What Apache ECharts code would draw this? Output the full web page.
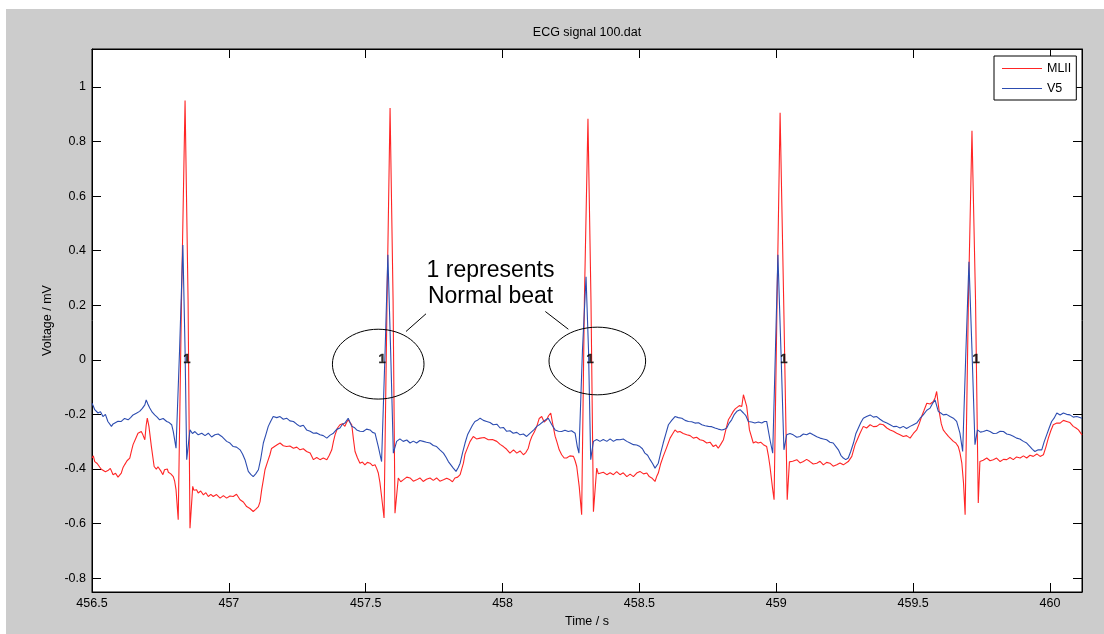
<!DOCTYPE html>
<html><head><meta charset="utf-8">
<script src="https://cdn.jsdelivr.net/npm/echarts@6/dist/echarts.min.js"></script>
<style>
html,body{margin:0;padding:0;background:#fff;}
#bg{position:absolute;left:6px;top:9px;width:1098px;height:625px;background:#cccccc;}
#chart{position:absolute;left:0;top:0;width:1104px;height:634px;}
</style></head><body>
<div id="bg"></div><div id="chart"></div>
<script>
const chartTitle = 'ECG signal 100.dat';
const seriesNames = ['MLII', 'V5'];
const xTicks = [456.5, 457, 457.5, 458, 458.5, 459, 459.5, 460];
const yTicks = [-0.8, -0.6, -0.4, -0.2, 0, 0.2, 0.4, 0.6, 0.8, 1];

// MLII lead: [time s, voltage mV]
const mlii = [
[456.500,-0.360],[456.505,-0.352],[456.510,-0.373],[456.519,-0.380],[456.528,-0.393],[456.534,-0.401],[456.540,-0.397],[456.549,-0.410],[456.558,-0.406],[456.567,-0.398],[456.577,-0.421],[456.586,-0.416],[456.595,-0.430],[456.601,-0.424],[456.607,-0.415],[456.613,-0.396],[456.619,-0.385],[456.628,-0.370],[456.638,-0.360],[456.644,-0.335],[456.650,-0.311],[456.659,-0.290],[456.668,-0.269],[456.674,-0.272],[456.680,-0.263],[456.686,-0.275],[456.693,-0.293],[456.698,-0.240],[456.702,-0.214],[456.708,-0.244],[456.717,-0.318],[456.727,-0.391],[456.735,-0.401],[456.741,-0.392],[456.747,-0.397],[456.753,-0.410],[456.759,-0.421],[456.765,-0.403],[456.771,-0.409],[456.775,-0.400],[456.779,-0.412],[456.788,-0.418],[456.797,-0.428],[456.802,-0.445],[456.807,-0.476],[456.815,-0.586],[456.827,0.220],[456.840,0.950],[456.851,0.220],[456.858,-0.617],[456.868,-0.464],[456.872,-0.478],[456.876,-0.483],[456.882,-0.476],[456.888,-0.488],[456.897,-0.481],[456.907,-0.495],[456.916,-0.487],[456.925,-0.501],[456.934,-0.493],[456.943,-0.501],[456.955,-0.494],[456.968,-0.507],[456.980,-0.498],[456.992,-0.507],[457.004,-0.499],[457.016,-0.501],[457.028,-0.493],[457.041,-0.513],[457.053,-0.521],[457.065,-0.538],[457.077,-0.545],[457.089,-0.556],[457.098,-0.548],[457.108,-0.538],[457.114,-0.520],[457.120,-0.476],[457.126,-0.440],[457.132,-0.403],[457.141,-0.375],[457.150,-0.348],[457.156,-0.325],[457.162,-0.318],[457.175,-0.312],[457.187,-0.305],[457.199,-0.315],[457.211,-0.318],[457.223,-0.316],[457.236,-0.324],[457.248,-0.320],[457.260,-0.330],[457.272,-0.326],[457.284,-0.336],[457.297,-0.342],[457.309,-0.366],[457.321,-0.358],[457.333,-0.366],[457.345,-0.360],[457.358,-0.366],[457.367,-0.350],[457.376,-0.330],[457.382,-0.300],[457.388,-0.275],[457.397,-0.250],[457.406,-0.238],[457.415,-0.234],[457.424,-0.244],[457.430,-0.230],[457.436,-0.220],[457.443,-0.230],[457.449,-0.238],[457.455,-0.290],[457.461,-0.336],[457.470,-0.360],[457.479,-0.379],[457.488,-0.375],[457.497,-0.385],[457.506,-0.376],[457.516,-0.379],[457.525,-0.388],[457.534,-0.385],[457.540,-0.398],[457.546,-0.415],[457.552,-0.450],[457.558,-0.501],[457.567,-0.580],[457.578,0.220],[457.589,0.923],[457.600,0.220],[457.607,-0.562],[457.619,-0.433],[457.628,-0.447],[457.637,-0.440],[457.650,-0.430],[457.662,-0.433],[457.674,-0.445],[457.686,-0.440],[457.698,-0.433],[457.710,-0.446],[457.722,-0.438],[457.735,-0.433],[457.747,-0.442],[457.759,-0.433],[457.771,-0.445],[457.784,-0.440],[457.796,-0.434],[457.808,-0.440],[457.817,-0.447],[457.826,-0.433],[457.836,-0.430],[457.845,-0.421],[457.851,-0.400],[457.857,-0.379],[457.863,-0.345],[457.869,-0.330],[457.881,-0.300],[457.893,-0.281],[457.905,-0.290],[457.918,-0.287],[457.933,-0.285],[457.948,-0.293],[457.963,-0.292],[457.979,-0.299],[457.991,-0.310],[458.003,-0.318],[458.015,-0.328],[458.027,-0.342],[458.040,-0.330],[458.052,-0.342],[458.064,-0.334],[458.076,-0.348],[458.085,-0.340],[458.094,-0.324],[458.100,-0.300],[458.107,-0.281],[458.116,-0.265],[458.125,-0.244],[458.134,-0.215],[458.143,-0.208],[458.152,-0.228],[458.161,-0.220],[458.168,-0.205],[458.176,-0.195],[458.185,-0.244],[458.192,-0.280],[458.198,-0.299],[458.207,-0.330],[458.216,-0.348],[458.225,-0.360],[458.234,-0.360],[458.246,-0.352],[458.259,-0.354],[458.265,-0.370],[458.271,-0.391],[458.280,-0.464],[458.289,-0.568],[458.299,0.220],[458.312,0.883],[458.323,0.220],[458.332,-0.557],[458.344,-0.397],[458.350,-0.418],[458.356,-0.421],[458.368,-0.412],[458.381,-0.421],[458.393,-0.414],[458.405,-0.421],[458.417,-0.410],[458.429,-0.421],[458.441,-0.414],[458.454,-0.428],[458.466,-0.419],[458.478,-0.428],[458.490,-0.415],[458.502,-0.409],[458.515,-0.418],[458.527,-0.415],[458.536,-0.428],[458.545,-0.433],[458.557,-0.446],[458.563,-0.428],[458.569,-0.415],[458.578,-0.380],[458.587,-0.354],[458.600,-0.320],[458.612,-0.287],[458.621,-0.272],[458.630,-0.257],[458.639,-0.265],[458.648,-0.263],[458.660,-0.270],[458.673,-0.275],[458.685,-0.278],[458.697,-0.287],[458.709,-0.284],[458.721,-0.293],[458.733,-0.296],[458.746,-0.305],[458.758,-0.302],[458.770,-0.318],[458.779,-0.312],[458.788,-0.324],[458.797,-0.310],[458.807,-0.293],[458.816,-0.255],[458.825,-0.220],[458.834,-0.205],[458.843,-0.189],[458.850,-0.180],[458.856,-0.177],[458.865,-0.168],[458.874,-0.171],[458.880,-0.128],[458.886,-0.150],[458.892,-0.171],[458.902,-0.257],[458.916,-0.305],[458.925,-0.300],[458.934,-0.305],[458.943,-0.302],[458.953,-0.311],[458.960,-0.305],[458.965,-0.318],[458.971,-0.350],[458.977,-0.391],[458.987,-0.476],[458.992,-0.513],[459.003,0.220],[459.014,0.905],[459.027,0.220],[459.040,-0.513],[459.048,-0.374],[459.060,-0.372],[459.075,-0.366],[459.087,-0.378],[459.099,-0.373],[459.111,-0.365],[459.123,-0.373],[459.135,-0.382],[459.148,-0.379],[459.160,-0.372],[459.172,-0.385],[459.184,-0.376],[459.196,-0.379],[459.208,-0.390],[459.221,-0.385],[459.233,-0.378],[459.245,-0.385],[459.263,-0.373],[459.276,-0.354],[459.288,-0.311],[459.297,-0.290],[459.306,-0.269],[459.318,-0.244],[459.330,-0.250],[459.343,-0.238],[459.355,-0.245],[459.367,-0.244],[459.379,-0.235],[459.391,-0.238],[459.404,-0.250],[459.416,-0.257],[459.428,-0.262],[459.440,-0.269],[459.452,-0.275],[459.464,-0.281],[459.476,-0.278],[459.489,-0.287],[459.501,-0.270],[459.513,-0.257],[459.522,-0.235],[459.531,-0.208],[459.540,-0.185],[459.550,-0.159],[459.562,-0.162],[459.574,-0.153],[459.580,-0.140],[459.586,-0.116],[459.596,-0.195],[459.603,-0.235],[459.610,-0.257],[459.620,-0.270],[459.629,-0.281],[459.638,-0.290],[459.647,-0.299],[459.656,-0.305],[459.665,-0.318],[459.671,-0.340],[459.678,-0.379],[459.684,-0.450],[459.690,-0.568],[459.702,0.220],[459.715,0.839],[459.728,0.220],[459.738,-0.525],[459.744,-0.373],[459.756,-0.368],[459.769,-0.360],[459.781,-0.370],[459.793,-0.366],[459.805,-0.360],[459.818,-0.373],[459.830,-0.365],[459.842,-0.366],[459.854,-0.358],[459.866,-0.366],[459.878,-0.356],[459.891,-0.360],[459.903,-0.352],[459.915,-0.360],[459.927,-0.350],[459.939,-0.354],[459.952,-0.345],[459.964,-0.354],[459.976,-0.348],[459.985,-0.320],[459.994,-0.287],[460.003,-0.260],[460.012,-0.238],[460.025,-0.232],[460.037,-0.232],[460.049,-0.222],[460.061,-0.226],[460.073,-0.230],[460.085,-0.244],[460.095,-0.250],[460.104,-0.257],[460.117,-0.275]
];

// V5 lead: [time s, voltage mV]
const v5 = [
[456.500,-0.159],[456.505,-0.170],[456.510,-0.183],[456.516,-0.178],[456.522,-0.195],[456.531,-0.190],[456.540,-0.208],[456.549,-0.200],[456.558,-0.226],[456.565,-0.220],[456.571,-0.244],[456.577,-0.235],[456.583,-0.232],[456.595,-0.225],[456.607,-0.226],[456.619,-0.215],[456.632,-0.220],[456.641,-0.212],[456.650,-0.202],[456.662,-0.196],[456.674,-0.189],[456.684,-0.178],[456.693,-0.165],[456.698,-0.147],[456.704,-0.162],[456.711,-0.177],[456.720,-0.192],[456.729,-0.202],[456.738,-0.210],[456.747,-0.220],[456.760,-0.215],[456.773,-0.226],[456.782,-0.230],[456.791,-0.238],[456.797,-0.263],[456.807,-0.324],[456.820,0.037],[456.832,0.421],[456.840,0.037],[456.846,-0.366],[456.858,-0.257],[456.867,-0.270],[456.876,-0.263],[456.888,-0.275],[456.901,-0.269],[456.913,-0.278],[456.925,-0.269],[456.937,-0.283],[456.949,-0.275],[456.961,-0.272],[456.974,-0.281],[456.983,-0.290],[456.992,-0.299],[457.004,-0.305],[457.016,-0.318],[457.028,-0.320],[457.041,-0.330],[457.050,-0.345],[457.059,-0.366],[457.071,-0.409],[457.080,-0.420],[457.089,-0.428],[457.098,-0.418],[457.108,-0.403],[457.117,-0.360],[457.126,-0.305],[457.135,-0.275],[457.144,-0.244],[457.153,-0.225],[457.162,-0.208],[457.175,-0.212],[457.187,-0.208],[457.199,-0.218],[457.211,-0.214],[457.223,-0.224],[457.236,-0.226],[457.248,-0.236],[457.260,-0.244],[457.272,-0.240],[457.284,-0.257],[457.297,-0.262],[457.309,-0.269],[457.321,-0.268],[457.333,-0.275],[457.345,-0.278],[457.358,-0.287],[457.370,-0.276],[457.382,-0.269],[457.394,-0.255],[457.406,-0.250],[457.415,-0.236],[457.424,-0.232],[457.436,-0.214],[457.449,-0.244],[457.458,-0.248],[457.467,-0.257],[457.479,-0.262],[457.491,-0.263],[457.503,-0.254],[457.516,-0.257],[457.525,-0.266],[457.534,-0.269],[457.546,-0.318],[457.558,-0.373],[457.571,0.037],[457.581,0.385],[457.591,0.037],[457.601,-0.342],[457.613,-0.299],[457.625,-0.290],[457.637,-0.299],[457.650,-0.294],[457.662,-0.305],[457.674,-0.298],[457.686,-0.305],[457.698,-0.296],[457.710,-0.299],[457.722,-0.302],[457.735,-0.305],[457.747,-0.314],[457.759,-0.318],[457.771,-0.330],[457.784,-0.342],[457.793,-0.356],[457.802,-0.373],[457.811,-0.385],[457.820,-0.397],[457.830,-0.409],[457.838,-0.395],[457.845,-0.379],[457.854,-0.340],[457.863,-0.305],[457.872,-0.275],[457.881,-0.257],[457.890,-0.240],[457.899,-0.226],[457.908,-0.222],[457.918,-0.214],[457.930,-0.222],[457.942,-0.226],[457.954,-0.230],[457.966,-0.238],[457.979,-0.236],[457.991,-0.250],[458.003,-0.248],[458.015,-0.262],[458.027,-0.260],[458.039,-0.269],[458.052,-0.266],[458.064,-0.275],[458.076,-0.272],[458.088,-0.281],[458.094,-0.275],[458.107,-0.263],[458.116,-0.255],[458.125,-0.244],[458.137,-0.236],[458.149,-0.226],[458.158,-0.220],[458.167,-0.214],[458.180,-0.238],[458.192,-0.257],[458.204,-0.262],[458.216,-0.263],[458.228,-0.258],[458.240,-0.263],[458.252,-0.260],[458.265,-0.269],[458.273,-0.318],[458.279,-0.342],[458.292,0.037],[458.305,0.304],[458.314,0.037],[458.322,-0.366],[458.332,-0.299],[458.344,-0.292],[458.356,-0.299],[458.368,-0.292],[458.381,-0.299],[458.393,-0.290],[458.405,-0.299],[458.417,-0.292],[458.429,-0.293],[458.441,-0.290],[458.454,-0.299],[458.466,-0.305],[458.478,-0.311],[458.490,-0.312],[458.502,-0.318],[458.511,-0.326],[458.520,-0.342],[458.530,-0.350],[458.539,-0.366],[458.548,-0.380],[458.557,-0.397],[458.569,-0.379],[458.578,-0.340],[458.587,-0.305],[458.597,-0.270],[458.606,-0.238],[458.618,-0.222],[458.630,-0.208],[458.642,-0.212],[458.655,-0.214],[458.667,-0.222],[458.679,-0.226],[458.691,-0.227],[458.703,-0.232],[458.716,-0.231],[458.728,-0.238],[458.740,-0.242],[458.752,-0.244],[458.764,-0.245],[458.776,-0.250],[458.788,-0.254],[458.801,-0.257],[458.810,-0.255],[458.819,-0.250],[458.828,-0.232],[458.837,-0.220],[458.847,-0.200],[458.856,-0.189],[458.868,-0.183],[458.880,-0.195],[458.889,-0.205],[458.898,-0.226],[458.910,-0.228],[458.922,-0.232],[458.935,-0.228],[458.947,-0.232],[458.957,-0.226],[458.965,-0.226],[458.977,-0.293],[458.987,-0.342],[458.997,0.037],[459.006,0.385],[459.017,0.037],[459.028,-0.330],[459.038,-0.275],[459.050,-0.270],[459.062,-0.275],[459.075,-0.284],[459.087,-0.281],[459.099,-0.272],[459.111,-0.275],[459.123,-0.268],[459.135,-0.275],[459.148,-0.282],[459.160,-0.287],[459.172,-0.290],[459.184,-0.293],[459.196,-0.302],[459.208,-0.305],[459.218,-0.318],[459.227,-0.330],[459.236,-0.350],[459.245,-0.360],[459.254,-0.366],[459.263,-0.360],[459.272,-0.336],[459.282,-0.305],[459.291,-0.270],[459.300,-0.250],[459.309,-0.230],[459.318,-0.214],[459.330,-0.208],[459.343,-0.202],[459.355,-0.210],[459.367,-0.208],[459.379,-0.218],[459.391,-0.226],[459.404,-0.232],[459.416,-0.238],[459.428,-0.245],[459.440,-0.244],[459.452,-0.250],[459.464,-0.244],[459.476,-0.252],[459.489,-0.244],[459.501,-0.238],[459.513,-0.232],[459.525,-0.215],[459.537,-0.202],[459.550,-0.185],[459.562,-0.177],[459.571,-0.160],[459.580,-0.147],[459.592,-0.189],[459.601,-0.195],[459.610,-0.202],[459.622,-0.200],[459.635,-0.208],[459.647,-0.214],[459.659,-0.226],[459.671,-0.269],[459.681,-0.336],[459.693,0.037],[459.704,0.359],[459.715,0.037],[459.726,-0.311],[459.735,-0.257],[459.746,-0.265],[459.757,-0.263],[459.769,-0.258],[459.781,-0.263],[459.793,-0.270],[459.805,-0.269],[459.818,-0.262],[459.830,-0.263],[459.842,-0.272],[459.854,-0.275],[459.866,-0.280],[459.878,-0.287],[459.890,-0.290],[459.903,-0.299],[459.915,-0.305],[459.927,-0.318],[459.936,-0.328],[459.945,-0.336],[459.957,-0.330],[459.970,-0.330],[459.979,-0.300],[459.988,-0.275],[459.997,-0.250],[460.006,-0.226],[460.015,-0.214],[460.025,-0.195],[460.037,-0.202],[460.049,-0.195],[460.061,-0.200],[460.073,-0.202],[460.085,-0.210],[460.098,-0.208],[460.117,-0.214]
];

// beat annotations (time of annotation, code)
const beatTimes = [456.847, 457.560, 458.320, 459.028, 459.730];
const beatCodes = ['1', '1', '1', '1', '1'];

// callout drawn in data units: ellipse [t, v, half-width s, half-height mV]
const noteEllipses = [[457.5457, -0.016, 0.1673, 0.128], [458.3462, -0.0044, 0.1765, 0.124]];
const noteLines = [[457.7203, 0.1686, 457.6472, 0.1037], [458.1562, 0.177, 458.2403, 0.112]];
const noteText = { t: 457.956, v: 0.2785, text: '1 represents\nNormal beat' };

const FONT = '"Liberation Sans", Arial, Helvetica, sans-serif';
const RED = '#ff2525';
const BLUE = '#2c4cb0';
const X_MIN = 456.5, X_MAX = 460.117, Y_MIN = -0.851, Y_MAX = 1.139;

const chart = echarts.init(document.getElementById('chart'), null, { renderer: 'canvas' });

function axisBase(extra) {
  return Object.assign({
    type: 'value',
    axisLine: { show: true, onZero: false, lineStyle: { color: '#000', width: 1 } },
    splitLine: { show: false },
  }, extra);
}

const option = {
  animation: false,
  backgroundColor: 'transparent',
  grid: { left: 92, right: 22, top: 49, bottom: 42, show: true, backgroundColor: '#fff', borderColor: '#000', borderWidth: 1 },
  legend: {
    show: true, data: seriesNames, orient: 'vertical', left: 994, top: 56,
    backgroundColor: '#fff', borderColor: '#000', borderWidth: 1, borderRadius: 0,
    padding: [6, 5, 5, 8], itemGap: 7, itemWidth: 40, itemHeight: 1, icon: 'rect',
    selectedMode: false, z: 20,
    textStyle: { color: '#000', fontSize: 12.5, fontFamily: FONT }
  },
  xAxis: [
    axisBase({
      min: X_MIN, max: X_MAX, position: 'bottom',
      axisTick: { show: true, inside: true, length: 9, customValues: xTicks, lineStyle: { color: '#000' } },
      axisLabel: { show: true, customValues: xTicks, margin: 5, color: '#000', fontSize: 12.5, fontFamily: FONT },
      name: 'Time / s', nameLocation: 'middle', nameGap: 17,
      nameTextStyle: { color: '#000', fontSize: 12.5, fontFamily: FONT }
    }),
    axisBase({
      min: X_MIN, max: X_MAX, position: 'top',
      axisTick: { show: true, inside: true, length: 9, customValues: xTicks, lineStyle: { color: '#000' } },
      axisLabel: { show: false }
    })
  ],
  yAxis: [
    axisBase({
      min: Y_MIN, max: Y_MAX, position: 'left',
      axisTick: { show: true, inside: true, length: 9, customValues: yTicks, lineStyle: { color: '#000' } },
      axisLabel: { show: true, customValues: yTicks, margin: 6, color: '#000', fontSize: 12.5, fontFamily: FONT },
      name: 'Voltage / mV', nameLocation: 'middle', nameGap: 37, nameRotate: 90,
      nameTextStyle: { color: '#000', fontSize: 12.5, fontFamily: FONT }
    }),
    axisBase({
      min: Y_MIN, max: Y_MAX, position: 'right',
      axisTick: { show: true, inside: true, length: 9, customValues: yTicks, lineStyle: { color: '#000' } },
      axisLabel: { show: false }
    })
  ],
  series: [
    { name: seriesNames[0], type: 'line', data: mlii, xAxisIndex: 0, yAxisIndex: 0,
      symbol: 'none', showSymbol: false, sampling: 'none', z: 2, color: RED,
      lineStyle: { color: RED, width: 1.1 }, itemStyle: { color: RED } },
    { name: seriesNames[1], type: 'line', data: v5, xAxisIndex: 0, yAxisIndex: 0,
      symbol: 'none', showSymbol: false, sampling: 'none', z: 3, color: BLUE,
      lineStyle: { color: BLUE, width: 1.1 }, itemStyle: { color: BLUE } },
    { name: 'beats', type: 'scatter', xAxisIndex: 0, yAxisIndex: 0, z: 5, silent: true,
      data: beatTimes.map((t, i) => [t, 0, beatCodes[i]]),
      symbolSize: 0.1, itemStyle: { color: 'transparent' },
      label: { show: true, position: 'inside', formatter: p => p.data[2],
        color: '#000', fontWeight: 'bold', fontSize: 13, fontFamily: '"Liberation Sans", Arial, sans-serif',
        textBorderColor: '#000', textBorderWidth: 0.4 } }
  ]
};
chart.setOption(option);

function px(t, v) { return chart.convertToPixel({ xAxisIndex: 0, yAxisIndex: 0 }, [t, v]); }
const gridLeft = px(X_MIN, 0)[0], gridRight = px(X_MAX, 0)[0];
const g = [];
g.push({ id: 'title', type: 'text', z: 100, x: (gridLeft + gridRight) / 2, y: 33,
  style: { text: chartTitle, textAlign: 'center', textVerticalAlign: 'middle', fill: '#000', font: '12.5px ' + FONT } });
noteEllipses.forEach((e, i) => {
  const c = px(e[0], e[1]), r = px(e[0] + e[2], e[1] + e[3]);
  g.push({ id: 'ell' + i, type: 'ellipse', z: 100, shape: { cx: c[0], cy: c[1], rx: r[0] - c[0], ry: c[1] - r[1] },
    style: { fill: null, stroke: '#000', lineWidth: 1 } });
});
noteLines.forEach((l, i) => {
  const a = px(l[0], l[1]), b = px(l[2], l[3]);
  g.push({ id: 'call' + i, type: 'line', z: 100, shape: { x1: a[0], y1: a[1], x2: b[0], y2: b[1] }, style: { stroke: '#000', lineWidth: 1 } });
});
const tp = px(noteText.t, noteText.v);
g.push({ id: 'note', type: 'text', z: 100, x: tp[0], y: tp[1],
  style: { text: noteText.text, textAlign: 'center', textVerticalAlign: 'middle', fill: '#000', font: '23px ' + FONT, lineHeight: 26 } });
chart.setOption({ graphic: g });
</script>
</body></html>
